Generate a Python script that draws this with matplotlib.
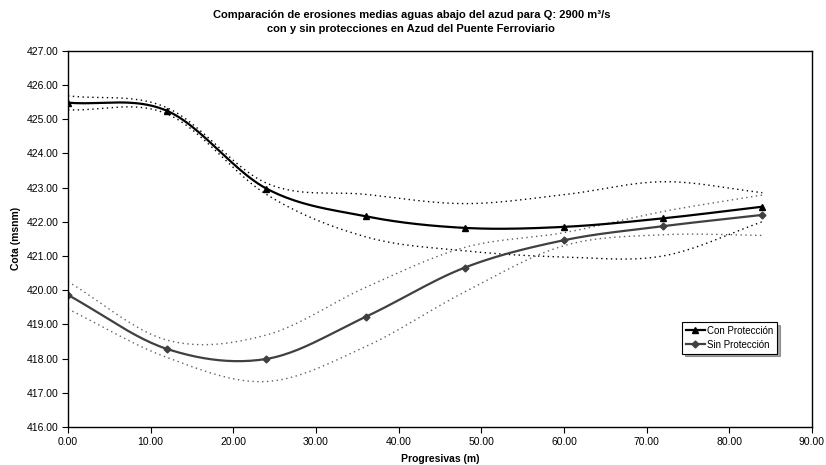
import numpy as np
import matplotlib
matplotlib.use("Agg")
import matplotlib.pyplot as plt
from matplotlib.lines import Line2D

plt.rcParams["font.family"] = ["Liberation Sans", "DejaVu Sans"]

progresivas = [0, 12, 24, 36, 48, 60, 72, 84]

con_proteccion = [425.48, 425.24, 422.97, 422.16, 421.82, 421.85, 422.10, 422.44]
con_sup = [425.68, 425.33, 423.13, 422.80, 422.53, 422.79, 423.17, 422.85]
con_inf = [425.27, 425.15, 422.80, 421.56, 421.15, 420.97, 421.00, 422.00]

sin_proteccion = [419.86, 418.28, 417.99, 419.22, 420.66, 421.46, 421.87, 422.20]
sin_sup = [420.25, 418.54, 418.69, 420.08, 421.25, 421.68, 422.30, 422.78]
sin_inf = [419.45, 418.03, 417.33, 418.35, 419.95, 421.30, 421.62, 421.60]


def smooth(xs, ys, n=25):
    # catmull-rom, like excel's smoothed lines
    x = np.asarray(xs, float)
    y = np.asarray(ys, float)
    px = np.concatenate([[2 * x[0] - x[1]], x, [2 * x[-1] - x[-2]]])
    py = np.concatenate([[2 * y[0] - y[1]], y, [2 * y[-1] - y[-2]]])
    out_x, out_y = [], []
    t = np.linspace(0, 1, n, endpoint=False)
    for i in range(1, len(px) - 2):
        for p, out in ((px, out_x), (py, out_y)):
            p0, p1, p2, p3 = p[i - 1], p[i], p[i + 1], p[i + 2]
            out.extend(0.5 * (2 * p1 + (-p0 + p2) * t
                              + (2 * p0 - 5 * p1 + 4 * p2 - p3) * t ** 2
                              + (-p0 + 3 * p1 - 3 * p2 + p3) * t ** 3))
    out_x.append(x[-1])
    out_y.append(y[-1])
    return out_x, out_y


fig = plt.figure(figsize=(8.26, 4.65), dpi=100)
ax = fig.add_axes([0.0823, 0.0817, 0.9007, 0.8093])

for serie, col in ((con_sup, "black"), (con_inf, "black"),
                   (sin_sup, "#606060"), (sin_inf, "#606060")):
    sx, sy = smooth(progresivas, serie)
    ax.plot(sx, sy, color=col, lw=1.0, ls=(0, (1, 2.5)))

sx, sy = smooth(progresivas, con_proteccion)
ax.plot(sx, sy, color="black", lw=1.6)
ax.plot(progresivas, con_proteccion, ls="none", marker="^", ms=5, color="black")

sx, sy = smooth(progresivas, sin_proteccion)
ax.plot(sx, sy, color="#404040", lw=1.6)
ax.plot(progresivas, sin_proteccion, ls="none", marker="D", ms=3.5, color="#404040")

ax.set_xlim(0, 90)
ax.set_ylim(416, 427)
ax.set_xticks(np.arange(0, 91, 10))
ax.set_yticks(np.arange(416, 428, 1))
ax.xaxis.set_major_formatter(matplotlib.ticker.FormatStrFormatter("%.2f"))
ax.yaxis.set_major_formatter(matplotlib.ticker.FormatStrFormatter("%.2f"))
ax.tick_params(labelsize=7.5, length=4, width=0.8, colors="black", pad=3)
for sp in ax.spines.values():
    sp.set_linewidth(1.0)
    sp.set_color("black")

ax.set_xlabel("Progresivas (m)", fontsize=7.5, fontweight="bold", labelpad=5.5)
ax.set_ylabel("Cota (msnm)", fontsize=7.5, fontweight="bold", labelpad=4)

fig.text(0.498, 0.968, "Comparación de erosiones medias aguas abajo del azud para Q: 2900 m³/s",
         ha="center", va="center", fontsize=8, fontweight="bold")
fig.text(0.498, 0.937, "con y sin protecciones en Azud del Puente Ferroviario",
         ha="center", va="center", fontsize=8, fontweight="bold")

handles = [Line2D([], [], color="black", lw=1.6, marker="^", ms=5),
           Line2D([], [], color="#404040", lw=1.6, marker="D", ms=3.5)]
leg = ax.legend(handles, ["Con Protección", "Sin Protección"], loc="lower left",
                bbox_to_anchor=(0.825, 0.195), fontsize=7, frameon=True,
                fancybox=False, shadow=True, framealpha=1, edgecolor="black",
                handlelength=2.0, handletextpad=0.2, borderpad=0.4,
                labelspacing=0.4, borderaxespad=0)
leg.get_frame().set_linewidth(0.8)

fig.savefig("out.png", dpi=100)
